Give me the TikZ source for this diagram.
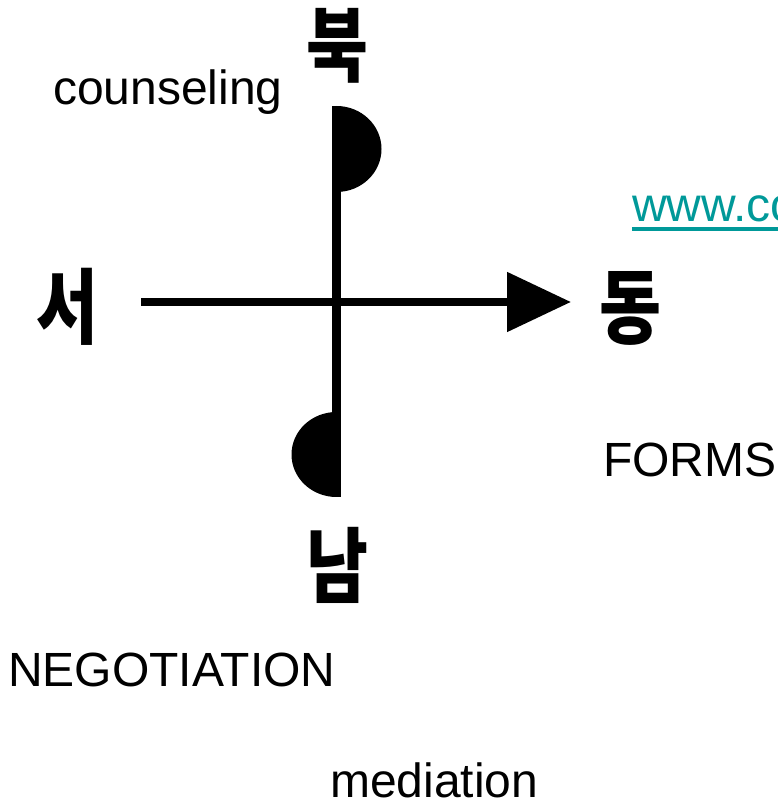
\documentclass[tikz,border=0pt]{standalone}
\usepackage{fontspec}
\setmainfont{Liberation Sans}
\newfontfamily\hangul{Noto Sans CJK KR}
\usepackage{xcolor}
\usepackage{tikz}
\usetikzlibrary{arrows.meta}
\definecolor{linkteal}{RGB}{0,153,153}

\begin{document}
\begin{tikzpicture}[
      x=1pt, y=1pt,
      compass/.style={font=\hangul\bfseries\fontsize{82}{90}\selectfont, xscale=0.82, inner sep=0},
      word/.style={font=\fontsize{48}{56}\selectfont, inner sep=0, anchor=base west},
      axis/.style={line width=8.5pt},
      half/.style={fill=black}
    ]
      \useasboundingbox (0,0) rectangle (778,806);

      % axis ends
      \coordinate (top) at (336.5,700);
      \coordinate (bottom) at (336.5,309);
      \coordinate (left) at (141,504);
      \coordinate (right) at (571,504);

      \node[compass] (north) at (337,760) {북};
      \node[compass] (west) at (67,499) {서};
      \node[compass] (east) at (630,498) {동};
      \node[compass] (south) at (337,241) {남};

      \node[word] (counsel) at (53,701) {counseling};
      \node[word, text=linkteal] (link) at (632,584) {www.co};
      \node[word] (forms) at (603,329) {FORMS};
      \node[word] (negot) at (8,119) {NEGOTIATION};
      \node[word] (mediat) at (330,9) {mediation};

      \draw[linkteal, line width=4pt] ([yshift=-7pt]link.base west) -- ++(160,0);

      \draw[axis] (top) -- (bottom);
      \fill[half] (top) arc[start angle=90, end angle=-90, x radius=45, y radius=43] -- cycle;
      \fill[half] (bottom) ++(0,85) arc[start angle=90, end angle=270, x radius=45, y radius=42.5] -- cycle;
      \draw[axis, -{Triangle[length=64pt, width=58pt]}] (left) -- (right);
    \end{tikzpicture}
\end{document}
